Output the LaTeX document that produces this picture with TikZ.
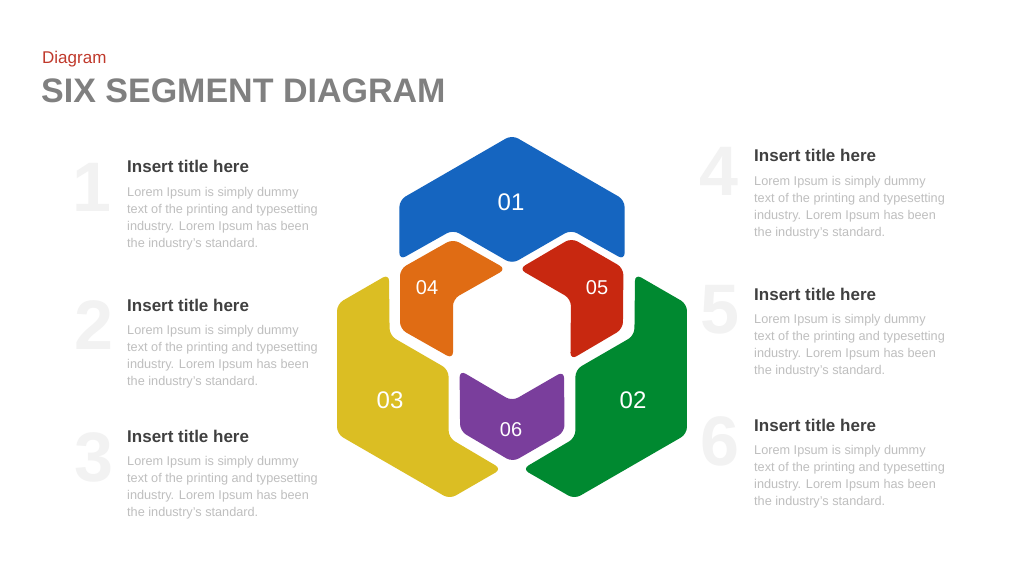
\documentclass[tikz,border=0pt]{standalone}
\usepackage{fontspec}
\setmainfont{Liberation Sans}
\usepackage{xcolor}
\definecolor{seg01}{RGB}{21,101,192}
\definecolor{seg02}{RGB}{0,137,48}
\definecolor{seg03}{RGB}{219,190,35}
\definecolor{seg04}{RGB}{224,108,20}
\definecolor{seg05}{RGB}{200,40,16}
\definecolor{seg06}{RGB}{122,62,156}
\definecolor{headred}{RGB}{192,57,43}
\begin{document}
\begin{tikzpicture}[x=1pt,y=1pt,
  piece/.style={fill=#1, rounded corners=7pt},
  segnum/.style={text=white, font=\fontsize{#1}{#1}\selectfont},
  bignum/.style={text=black!5, font=\fontsize{70}{70}\selectfont\bfseries},
  itemtitle/.style={anchor=base west, inner sep=0, text=black!75,
    font=\fontsize{17}{20}\selectfont\bfseries},
  itemtext/.style={anchor=north west, inner sep=0, align=left, text=black!25,
    font=\fontsize{12.7}{16.8}\selectfont}]
 %\draw [help lines] (0,0) grid [step=50] (1024,576);
 \fill [white] (0,0) rectangle (1024,576);
 \useasboundingbox (0,0) rectangle (1024,576);
 \node [anchor=base west, inner sep=0, text=headred,
   font=\fontsize{17}{20}\selectfont] (kicker) at (42,512) {Diagram};
 \node [anchor=base west, inner sep=0, text=black!50,
   font=\fontsize{34}{40}\selectfont\bfseries] (heading) at (41,473) {SIX SEGMENT DIAGRAM};
 %
 \begin{scope}[shift={(512,243)}]
  \foreach \ang/\col/\dx/\dy in {0/seg01/0/0,-120/seg02/3.5/-2,120/seg03/-3.5/-2}
   \fill [piece=\col, shift={(\dx,\dy)}, rotate=\ang] (0,198) -- (112.6,133) -- (112.6,73)
     -- (59,103.2) -- (0,69.2) -- (-59,103.2) -- (-112.6,73) -- (-112.6,133) -- cycle;
  \foreach \ang/\col in {0/seg04,-120/seg05,120/seg06}
   \fill [piece=\col, rotate=\ang] (-59,94) -- (-6,64) -- (-59,34) -- (-59,-26)
     -- (-112,4) -- (-112,64) -- cycle;
 \end{scope}
 \node [segnum=24] (n01) at (511,374) {01};
 \node [segnum=24] (n02) at (633,176) {02};
 \node [segnum=24] (n03) at (390,176) {03};
 \node [segnum=20] (n04) at (427,288) {04};
 \node [segnum=20] (n05) at (597,288) {05};
 \node [segnum=20] (n06) at (511,146) {06};
 %
 \foreach \k/\nx/\ny/\tx/\ty in {1/92/389/127/403, 2/94/251/127/265, 3/94/119/127/134,
   4/719/405/754/414, 5/720/266/754/276, 6/720/135/754/145}
 {
  \node [bignum] (num\k) at (\nx,\ny) {\k};
  \node [itemtitle] (title\k) at (\tx,\ty) {Insert title here};
  \node [itemtext] (text\k) at (\tx,\ty-14.2) {Lorem Ipsum is simply dummy\\
    text of the printing and typesetting\\industry. Lorem Ipsum has been\\
    the industry's standard.};
 }
\end{tikzpicture}
\end{document}
